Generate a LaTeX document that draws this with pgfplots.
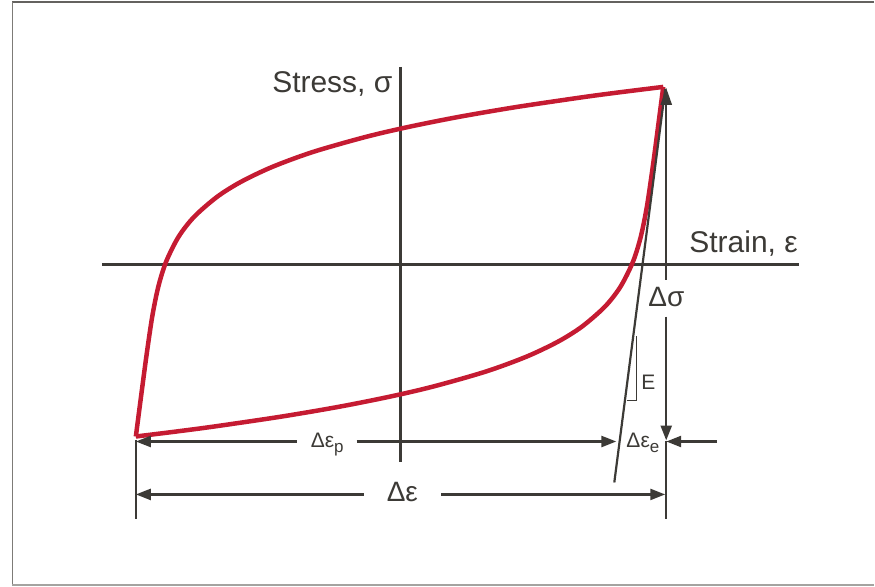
\documentclass[border=0pt]{standalone}
\usepackage{pgfplots}
\pgfplotsset{compat=1.18}
\usepackage{fontspec}
\setmainfont{Liberation Sans}
\usetikzlibrary{arrows.meta}
\definecolor{loopred}{RGB}{197,27,50}
\definecolor{ink}{RGB}{60,58,54}
\definecolor{framegray}{RGB}{125,123,119}
\newcommand{\fs}[1]{\fontsize{#1}{#1}\selectfont}
\begin{document}
\begin{tikzpicture}
\begin{axis}[hide axis, scale only axis, width=875pt, height=587pt,
  xmin=0, xmax=875, ymin=0, ymax=587, y dir=reverse, clip=false]
\path (0,0) rectangle (875,587);
% frame
\draw[framegray!80!black, line width=1.5pt] (875,2) -- (12.5,2);
\draw[framegray, line width=1.5pt] (12.5,2) -- (12.5,585.5);
\draw[framegray!70, line width=2pt] (12.5,585.5) -- (875,585.5);
% axes
\draw[ink, line width=2.5pt] (102,265) -- (800,265);
\draw[ink, line width=2.5pt] (401,67) -- (401,463);
% hysteresis loop
\addplot[loopred, line width=4.5pt, smooth, tension=0.5] coordinates {
(136,437) (141.2,397) (146.5,357) (152.4,317) (158.5,287) (166.3,262)
(178.8,237) (194.4,217) (217.4,197) (241.3,182) (272.8,167) (313.7,152)
(366.4,137) (409.3,127) (459.4,117) (517.9,107) (585.7,97) (623.5,92) (664,87)};
\addplot[loopred, line width=4.5pt, smooth, tension=0.5] coordinates {
(664,87) (658.8,127) (653.5,167) (647.6,207) (641.5,237) (633.7,262)
(621.2,287) (605.6,307) (582.6,327) (558.7,342) (527.2,357) (486.3,372)
(433.6,387) (390.7,397) (340.6,407) (282.1,417) (214.3,427) (176.5,432) (136,437)};
% elastic line and triangle
\draw[ink, line width=2.2pt] (615,483) -- (666,89);
\draw[ink, line width=1.2pt] (628,401) -- (637,401) -- (637,336);
% delta sigma
\draw[ink, line width=2.5pt, -{Triangle[length=17pt,width=11pt]}] (667,280) -- (667,88);
\draw[ink, line width=2.5pt, -{Triangle[length=15pt,width=11pt]}] (667,317) -- (667,441);
\draw[ink, line width=2.5pt] (667,441) -- (667,520);
% extension left
\draw[ink, line width=2.5pt] (136,440) -- (136,520);
% delta eps p
\draw[ink, line width=2.5pt, {Triangle[length=15pt,width=11pt]}-] (136,442) -- (297,442);
\draw[ink, line width=2.5pt, -{Triangle[length=15pt,width=11pt]}] (357,442) -- (617,442);
% delta eps e
\draw[ink, line width=2.5pt, -{Triangle[length=15pt,width=11pt]}] (718,442) -- (667,442);
% delta eps
\draw[ink, line width=2.5pt, {Triangle[length=15pt,width=11pt]}-] (136,495) -- (364,495);
\draw[ink, line width=2.5pt, -{Triangle[length=15pt,width=11pt]}] (442,495) -- (666,495);
% labels
\node[inner sep=0pt, anchor=base east, text=ink] at (393,93) {\fs{30}Stress, σ};
\node[inner sep=0pt, anchor=base west, text=ink] at (690,253) {\fs{30}Strain, ε};
\node[inner sep=0pt, anchor=base west, text=ink] at (649,307) {\fs{28}Δσ};
\node[inner sep=0pt, anchor=base west, text=ink] at (387,502) {\fs{28}Δε};
\node[inner sep=0pt, anchor=base west, text=ink] at (311,448) {\fs{21}Δε\raisebox{-5pt}{\fs{17}p}};
\node[inner sep=0pt, anchor=base west, text=ink] at (627,448) {\fs{21}Δε\raisebox{-5pt}{\fs{17}e}};
\node[inner sep=0pt, anchor=base west, text=ink] at (642,390) {\fs{21}E};
\end{axis}
\end{tikzpicture}
\end{document}
